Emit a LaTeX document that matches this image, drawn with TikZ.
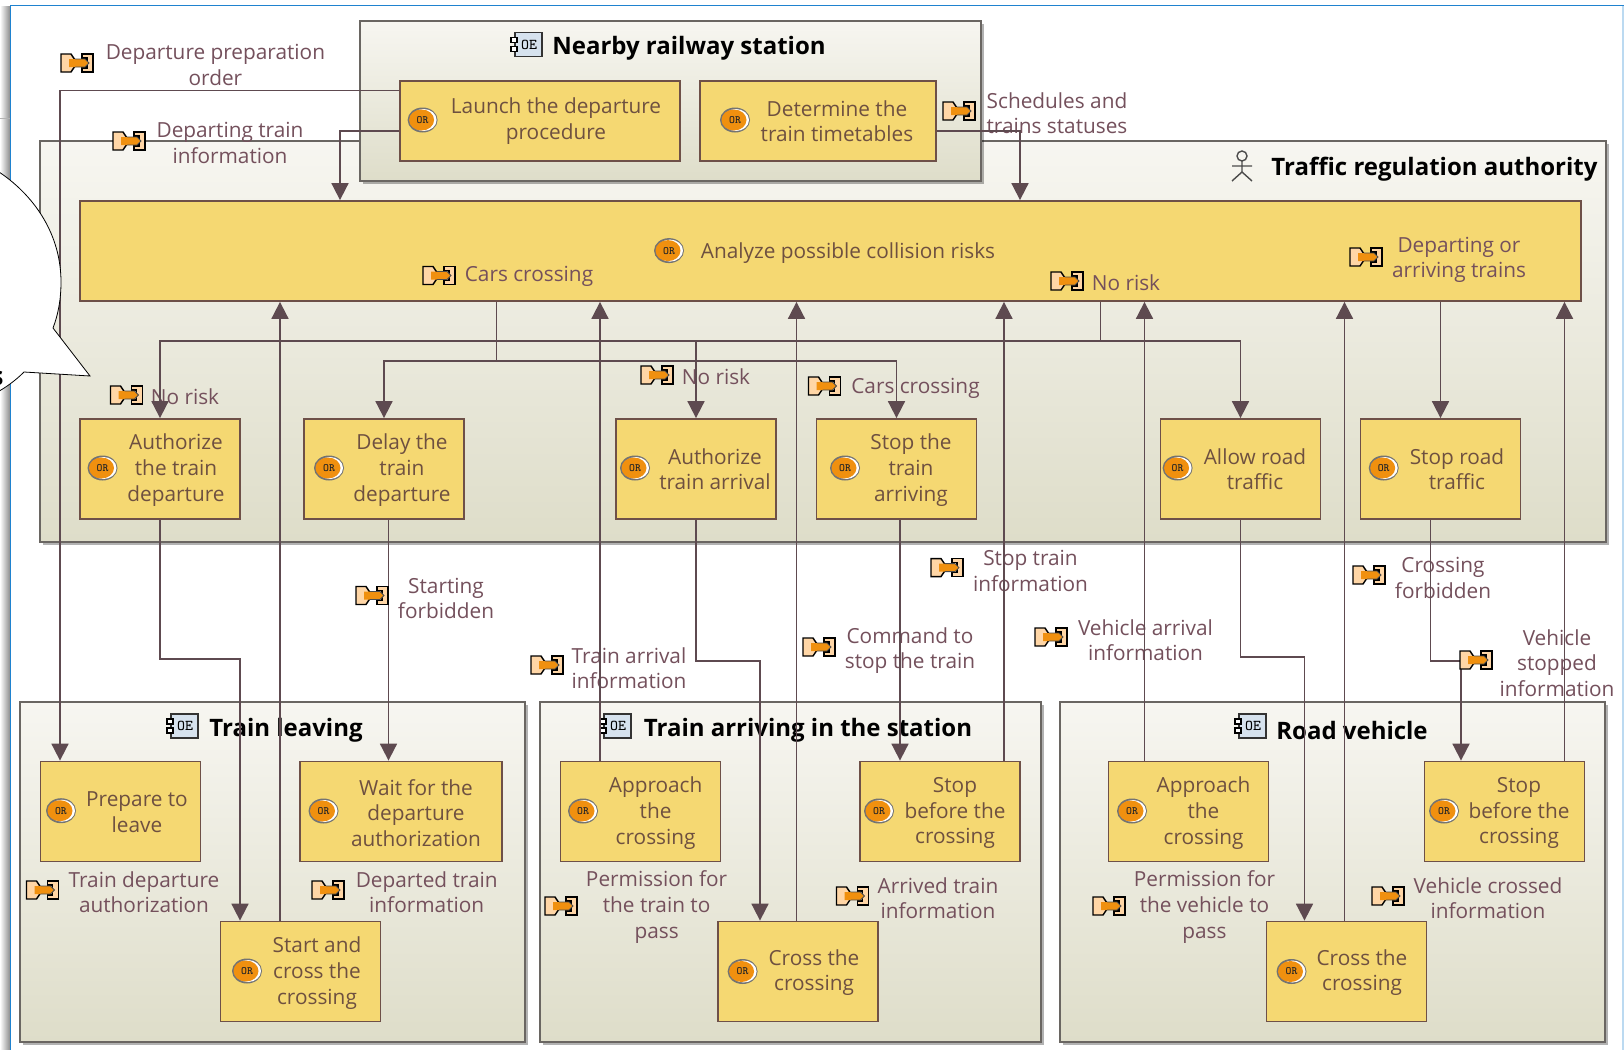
\documentclass[tikz,border=0pt]{standalone}
\usepackage{fontspec}
\setmainfont{Open Sans}
\usetikzlibrary{arrows.meta,shadows}
\definecolor{taskfill}{HTML}{F5D872}
\definecolor{taskedge}{HTML}{6E5048}
\definecolor{flowcol}{HTML}{5E4A50}
\definecolor{msgtext}{HTML}{74505C}
\definecolor{tasktext}{HTML}{6E5040}
\definecolor{boxedge}{HTML}{6A6662}
\definecolor{boxtop}{HTML}{F7F6F1}
\definecolor{boxbot}{HTML}{DEDDC9}
\definecolor{iconorange}{HTML}{F0900F}
\definecolor{iconpale}{HTML}{FFD6A6}
\definecolor{entityblue}{HTML}{D6E2EE}
\definecolor{frameblue}{HTML}{1F82CF}
\tikzset{
  container/.style={draw=boxedge,line width=1.1pt,top color=boxtop,bottom color=boxbot,
    drop shadow={shadow xshift=1.6pt,shadow yshift=-1.6pt,opacity=.3,fill=black}},
  taskbox/.style={draw=taskedge,line width=.9pt,fill=taskfill,minimum width=80pt,minimum height=50pt},
  tasklabel/.style={align=center,inner sep=0pt,text=tasktext,font=\fontsize{10.4}{12.8}\selectfont},
  msglabel/.style={align=center,inner sep=0pt,text=msgtext,font=\fontsize{10.4}{12.8}\selectfont},
  titlelabel/.style={inner sep=0pt,text=black,font=\fontsize{12}{14}\selectfont\bfseries},
  flow/.style={draw=flowcol,line width=.9pt,-{Triangle[length=8.5pt,width=8.5pt]}},
  trunk/.style={draw=flowcol,line width=.9pt},
  orbadge/.pic={
    \fill[black!55] (0,0) ellipse [x radius=15,y radius=12.5];
    \fill[white] (1,0) ellipse [x radius=13,y radius=11];
    \fill[iconorange] (-1,0) ellipse [x radius=12.5,y radius=10.5];
    \node[inner sep=0pt,text=black!85,font=\fontsize{5.6}{6}\ttfamily\bfseries] (-txt) at (0,0) {OR};
  },
  msgicon/.pic={
    \filldraw[fill=iconpale,draw=black,line width=.7pt] (-16,-9) -- (-6,-9) -- (-2,-3) -- (-2,3) -- (-6,9) -- (-16,9) -- cycle;
    \filldraw[fill=iconpale,draw=black,line width=.7pt] (5,-9) -- (16,-9) -- (16,9) -- (5,9) -- (5,5) -- (10,5) -- (10,-5) -- (5,-5) -- cycle;
    \fill[iconorange] (-8,-4) -- (8,-4) -- (12,0) -- (8,4) -- (-8,4) -- cycle;
    \draw[black!70,line width=.4pt] (-2,-4) -- (8,-4) -- (12,0) -- (8,4) -- (-2,4);
  },
  entityicon/.pic={
    \filldraw[fill=entityblue,draw=black!80,line width=.7pt] (-12,-12) rectangle (15,12);
    \filldraw[fill=white,draw=black,line width=.6pt] (-16,-7) rectangle (-10,-2);
    \filldraw[fill=white,draw=black,line width=.6pt] (-16,2) rectangle (-10,7);
    \node[inner sep=0pt,text=black,font=\fontsize{7.5}{8}\ttfamily] (-txt) at (2,0) {OE};
  },
  personicon/.pic={
    \draw[black!70,line width=.7pt] (0,-10) circle [radius=5];
    \draw[black!70,line width=.7pt] (0,-5) -- (0,6) (-10,0) -- (10,0) (-10,15) -- (0,6) -- (10,15);
  },
}
\begin{document}
\begin{tikzpicture}[x=.5pt,y=-.5pt]
\useasboundingbox (0,0) rectangle (1624,1050);
\fill[white] (0,0) rectangle (1624,1050);
% window edge
\shade[left color=white,right color=black!45] (0,6) rectangle (10,1050);
\draw[black!30,line width=.5pt] (0,118) -- (10,118);
\draw[frameblue,line width=.8pt] (10.5,1050) -- (10.5,5.5) -- (1624,5.5);
\draw[frameblue!30,line width=.8pt] (1623,5.5) -- (1623,1050);
% containers
\node[container,minimum width=783pt,minimum height=200.5pt] (authority) at (823,341.5) {};
\node[container,minimum width=310.5pt,minimum height=80pt] (station) at (670.5,101) {};
\node[container,minimum width=252.5pt,minimum height=170pt] (leaving) at (272.5,872) {};
\node[container,minimum width=250.5pt,minimum height=170pt] (arriving) at (790.5,872) {};
\node[container,minimum width=272.5pt,minimum height=170pt] (road) at (1332.5,872) {};
% titles
\pic (iconstation) at (527,44.5) {entityicon};
\node[titlelabel] (titlestation) at (689,48.5) {Nearby railway station};
\pic at (1242,166) {personicon};
\node[titlelabel] (titleauthority) at (1434.5,169) {Traffic regulation authority};
\pic (iconleaving) at (183,726) {entityicon};
\node[titlelabel] (titleleaving) at (286,730) {Train leaving};
\pic (iconarriving) at (616,726) {entityicon};
\node[titlelabel] (titlearriving) at (808,730) {Train arriving in the station};
\pic (iconroad) at (1251,726) {entityicon};
\node[titlelabel] (titleroad) at (1352,730) {Road vehicle};
% tasks
\node[taskbox,minimum width=140pt,minimum height=40pt] (launch) at (540,121) {};
\node[taskbox,minimum width=118pt,minimum height=40pt] (determine) at (818,121) {};
\node[taskbox,minimum width=750.5pt] (analyze) at (830.5,251) {};
\node[taskbox] (authdep) at (160,469) {};
\node[taskbox] (delay) at (384,469) {};
\node[taskbox] (autharr) at (696,469) {};
\node[taskbox] (stoparr) at (896.5,469) {};
\node[taskbox] (allow) at (1240.5,469) {};
\node[taskbox] (stoproad) at (1440.5,469) {};
\node[taskbox] (prepare) at (120.5,811.5) {};
\node[taskbox,minimum width=101pt] (wait) at (401,811.5) {};
\node[taskbox] (start) at (300.5,971.5) {};
\node[taskbox] (approachtrain) at (640.5,811.5) {};
\node[taskbox] (stoptrain) at (940,811.5) {};
\node[taskbox] (crosstrain) at (798,971.5) {};
\node[taskbox] (approachroad) at (1188.5,811.5) {};
\node[taskbox] (stopvehicle) at (1504.5,811.5) {};
\node[taskbox] (crossroad) at (1346.5,971.5) {};
% task texts
\pic (or1) at (422.6,120) {orbadge};
\node[tasklabel] (txtlaunch) at (556,121) {Launch the departure\\procedure};
\pic (or2) at (735,120) {orbadge};
\node[tasklabel] (txtdetermine) at (837,121) {Determine the\\train timetables};
\pic (or3) at (669,250.6) {orbadge};
\node[tasklabel] (txtanalyze) at (848,252.7) {Analyze possible collision risks};
\pic (or4) at (102.5,468) {orbadge};
\node[tasklabel] (txtauthdep) at (176,470) {Authorize\\the train\\departure};
\pic (or5) at (329,468) {orbadge};
\node[tasklabel] (txtdelay) at (402,470) {Delay the\\train\\departure};
\pic (or6) at (635,468) {orbadge};
\node[tasklabel] (txtautharr) at (715,469) {Authorize\\train arrival};
\pic (or7) at (845,468) {orbadge};
\node[tasklabel] (txtstoparr) at (911,470) {Stop the\\train\\arriving};
\pic (or8) at (1177.6,468) {orbadge};
\node[tasklabel] (txtallow) at (1255,469) {Allow road\\traffic};
\pic (or9) at (1383.7,468) {orbadge};
\node[tasklabel] (txtstoproad) at (1457,469) {Stop road\\traffic};
\pic (or10) at (61,810.7) {orbadge};
\node[tasklabel] (txtprepare) at (137,812) {Prepare to\\leave};
\pic (or11) at (323.5,811) {orbadge};
\node[tasklabel] (txtwait) at (416,813) {Wait for the\\departure\\authorization};
\pic (or12) at (247,971) {orbadge};
\node[tasklabel] (txtstart) at (317,973) {Start and\\cross the\\crossing};
\pic (or13) at (583,811) {orbadge};
\node[tasklabel] (txtapproachtrain) at (655.6,813) {Approach\\the\\crossing};
\pic (or14) at (879,811) {orbadge};
\node[tasklabel] (txtstoptrain) at (955,813) {Stop\\before the\\crossing};
\pic (or15) at (742.6,971.5) {orbadge};
\node[tasklabel] (txtcrosstrain) at (814,972.5) {Cross the\\crossing};
\pic (or16) at (1132,811) {orbadge};
\node[tasklabel] (txtapproachroad) at (1203.5,813) {Approach\\the\\crossing};
\pic (or17) at (1444,811) {orbadge};
\node[tasklabel] (txtstopvehicle) at (1519,813) {Stop\\before the\\crossing};
\pic (or18) at (1291.5,971.5) {orbadge};
\node[tasklabel] (txtcrossroad) at (1362,972.5) {Cross the\\crossing};
% messages
\node[msglabel] (mprep) at (215.4,65) {Departure preparation\\order};
\node[msglabel] (mdeparting) at (230,143) {Departing train\\information};
\node[msglabel] (mschedules) at (1057,113) {Schedules and\\trains statuses};
\node[msglabel] (mcars) at (529,276.5) {Cars crossing};
\node[msglabel] (mnorisk) at (1126,283) {No risk};
\node[msglabel] (mdeparr) at (1459,260) {Departing or\\arriving trains};
\node[msglabel] (mnoriska) at (185,397) {No risk};
\node[msglabel] (mnoriskb) at (716,377) {No risk};
\node[msglabel] (mcarsb) at (915.5,388.5) {Cars crossing};
\node[msglabel] (mstarting) at (446,598.6) {Starting\\forbidden};
\node[msglabel] (mstoptrain) at (1030.5,570.7) {Stop train\\information};
\node[msglabel] (mcrossing) at (1443,578) {Crossing\\forbidden};
\node[msglabel] (mcommand) at (910,650.4) {Command to\\stop the train};
\node[msglabel] (mvehicle) at (1145.5,640) {Vehicle arrival\\information};
\node[msglabel] (mtrainarr) at (629,668) {Train arrival\\information};
\node[msglabel] (mstopped) at (1557,663) {Vehicle\\stopped\\information};
\node[msglabel] (mauth) at (144,892) {Train departure\\authorization};
\node[msglabel] (mdeparted) at (426.7,892) {Departed train\\information};
\node[msglabel] (mpermtrain) at (656.6,907) {Permission for\\the train to\\pass};
\node[msglabel] (marrived) at (938,898) {Arrived train\\information};
\node[msglabel] (mpermroad) at (1204.5,907) {Permission for\\the vehicle to\\pass};
\node[msglabel] (mcrossed) at (1488,898) {Vehicle crossed\\information};
% connectors
\coordinate (norisk) at (1100.5,341);
\coordinate (carsrisk) at (496.5,361);
\draw[flow] (launch.west |- 0,90.5) -| (prepare.north -| 60,0);
\draw[flow] (launch.west |- 0,131) -| (analyze.north -| 340,0);
\draw[flow] (determine.east |- 0,131) -| (analyze.north -| 1020,0);
\draw[trunk] (analyze.south -| norisk) -- (norisk);
\draw[flow] (norisk) -| (authdep.north);
\draw[flow] (norisk) -| (allow.north);
\draw[flow] (autharr.north |- norisk) -- (autharr.north);
\draw[trunk] (analyze.south -| carsrisk) -- (carsrisk);
\draw[flow] (carsrisk) -| (delay.north);
\draw[flow] (carsrisk) -| (stoparr.north);
\draw[flow] (stoproad.north |- analyze.south) -- (stoproad.north);
\draw[flow] (start.north -| 280,0) -- (analyze.south -| 280,0);
\draw[flow] (approachtrain.north -| 600,0) -- (analyze.south -| 600,0);
\draw[flow] (crosstrain.north -| 796.5,0) -- (analyze.south -| 796.5,0);
\draw[flow] (stoptrain.north -| 1004,0) -- (analyze.south -| 1004,0);
\draw[flow] (approachroad.north -| 1144.5,0) -- (analyze.south -| 1144.5,0);
\draw[flow] (crossroad.north -| 1344.5,0) -- (analyze.south -| 1344.5,0);
\draw[flow] (stopvehicle.north -| 1564.5,0) -- (analyze.south -| 1564.5,0);
\draw[flow] (authdep.south) -- (160,659) -| (start.north -| 240,0);
\draw[flow] (delay.south -| 388.5,0) -- (wait.north -| 388.5,0);
\draw[flow] (autharr.south) -- (696,661) -| (crosstrain.north -| 760,0);
\draw[flow] (stoparr.south -| 900,0) -- (stoptrain.north -| 900,0);
\draw[flow] (allow.south) -- (1240.5,657) -| (crossroad.north -| 1304.5,0);
\draw[flow] (stoproad.south -| 1430.5,0) -- (1430.5,661) -| (stopvehicle.north -| 1461,0);
% message icons
\pic at (77,63) {msgicon};
\pic at (129,141) {msgicon};
\pic at (959,111) {msgicon};
\pic at (439,275.5) {msgicon};
\pic at (1067,281) {msgicon};
\pic at (1366,257) {msgicon};
\pic at (126.5,395) {msgicon};
\pic at (657,375) {msgicon};
\pic at (824.5,386) {msgicon};
\pic at (372,595.5) {msgicon};
\pic at (947,567.6) {msgicon};
\pic at (1369,575) {msgicon};
\pic at (819,647) {msgicon};
\pic at (1051,637) {msgicon};
\pic at (547,665) {msgicon};
\pic at (1476,660) {msgicon};
\pic at (42.5,890) {msgicon};
\pic at (328,890) {msgicon};
\pic at (561,906) {msgicon};
\pic at (852.5,896) {msgicon};
\pic at (1109,906) {msgicon};
\pic at (1388,896) {msgicon};
% callout
\filldraw[fill=white,draw=black,line width=.4pt] (-4,170) .. controls (35,195) and (61,235) .. (61,282)
  .. controls (61,300) and (58,315) .. (53,328) -- (90,376) -- (24,372)
  .. controls (16,380) and (8,386) .. (-4,393) -- cycle;
\node[inner sep=0pt,text=black,font=\fontsize{13}{14}\selectfont\bfseries] (calloutend) at (-3,378) {s};
\end{tikzpicture}
\end{document}
